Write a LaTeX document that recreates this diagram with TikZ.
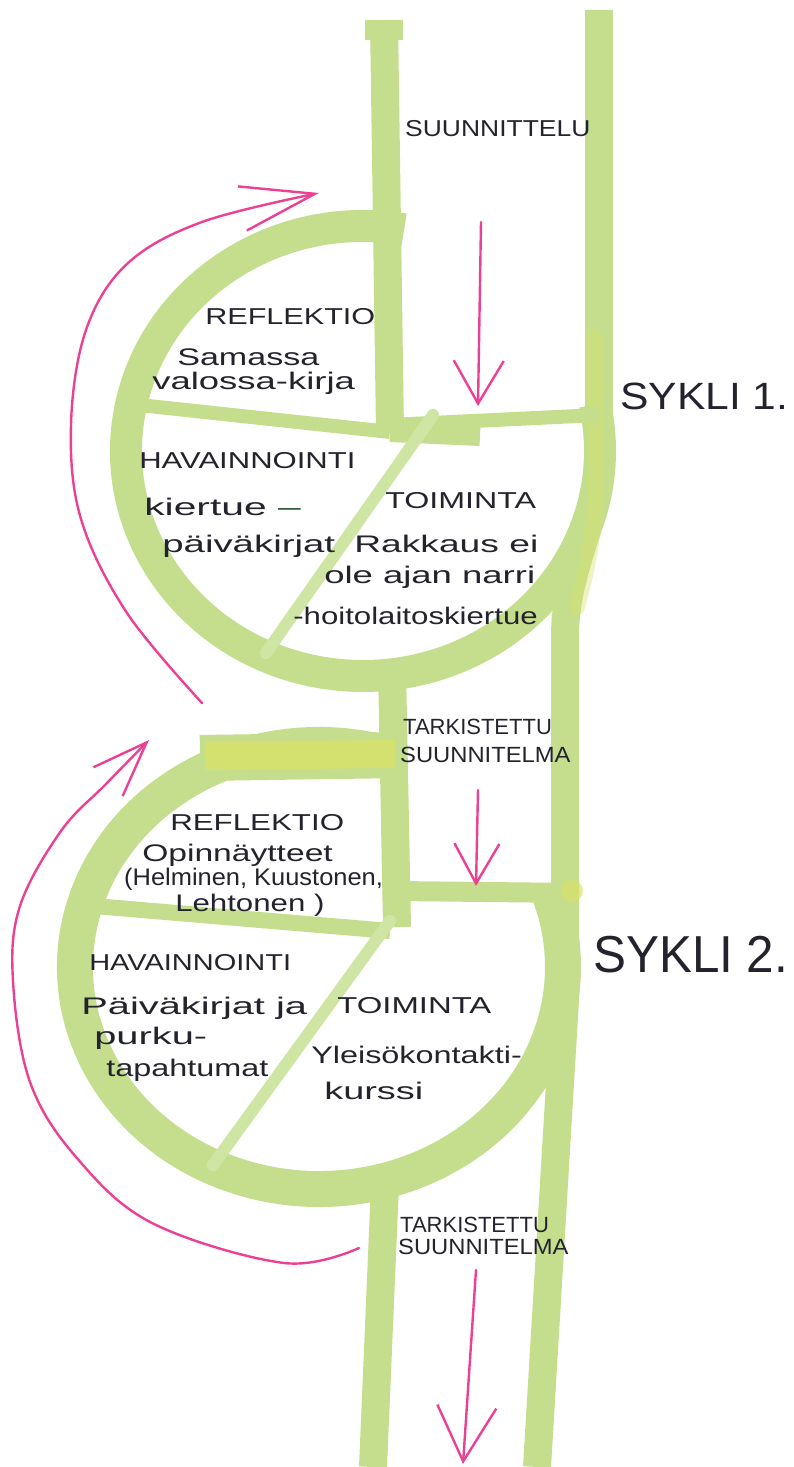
\documentclass[tikz,border=0pt]{standalone}
\usepackage{fontspec}
\setmainfont{Liberation Sans}
\usetikzlibrary{arrows.meta}
\definecolor{marker}{RGB}{197,222,142}
\definecolor{markerlight}{RGB}{207,229,163}
\definecolor{markeryellow}{RGB}{216,226,104}
\definecolor{pen}{RGB}{236,64,148}
\definecolor{ink}{RGB}{35,35,45}
\definecolor{darkpen}{RGB}{30,80,40}
\tikzset{
	band/.style={draw=marker, line width=28pt, line join=round},
	ring/.style={draw=marker, line width=32pt},
	spoke/.style={draw=marker, line width=14pt},
	thinspoke/.style={draw=markerlight, line width=12pt, line cap=round},
	penline/.style={draw=pen, line width=2.4pt, line cap=round},
	caps/.style={font=\fontsize{23}{23}\selectfont, text=ink, inner sep=0pt, anchor=base west},
	smallcaps/.style={font=\fontsize{22}{22}\selectfont, text=ink, inner sep=0pt, anchor=base west},
	hand/.style={font=\fontsize{24}{24}\selectfont, text=ink, inner sep=0pt, anchor=base west},
	cyclelbl/.style={text=ink, inner sep=0pt, anchor=base west}
}
\begin{document}
\begin{tikzpicture}[x=1pt,y=1pt]
		\useasboundingbox (0,0) rectangle (794,1467);
		\coordinate (c1) at (363,1016);
		\coordinate (c2) at (319,500);
		\coordinate (rtop) at (599,1457);
		\coordinate (rbend) at (599,1016);
		\coordinate (rlow) at (565,830);
		\coordinate (rmid) at (565,467);
		\coordinate (rbot) at (537,0);
		\coordinate (ltop) at (384,1447);
		\coordinate (hub1) at (390,1035);
		\coordinate (mtop) at (392,800);
		\coordinate (hub2) at (397,540);
		\coordinate (btop) at (385,282);
		\coordinate (bbot) at (373,0);
		% green bands
		\draw[band] (rtop) -- (rbend) .. controls (599,940) and (565,900) .. (rlow) -- (rmid) -- (rbot);
		\draw[band] (ltop) -- (hub1);
		\draw[draw=marker, line width=38pt] (ltop) -- ++(0,-20);
		\draw[band] (mtop) -- (hub2);
		\draw[band] (btop) -- (bbot);
		\draw[ring] ([shift={(80:237 and 225)}]c1) arc[start angle=80, end angle=372, x radius=237, y radius=225];
		\draw[ring, line width=36pt] ([shift={(71:244 and 222)}]c2) arc[start angle=71, end angle=380, x radius=244, y radius=222];
		\draw[draw=markeryellow, line width=16pt, opacity=0.4, line cap=round] (595,1130) -- (596,1000) .. controls (596,930) and (585,890) .. (577,860);
		\draw[draw=marker, line width=46pt] (200,709) -- (405,712);
		\draw[draw=markeryellow, line width=28pt, opacity=0.8] (205,711) -- (395,713);
		\draw[spoke] (130,1063) -- (hub1);
		\draw[spoke] (hub1) ++(0,7) -- (599,1052);
		\draw[draw=marker, line width=20pt] (hub1) -- (480,1031);
		\draw[thinspoke] (266,814) -- (433,1052);
		\draw[spoke, line width=16pt] (94,561) -- (390,536);
		\draw[spoke, line width=20pt] (395,576) -- (575,574);
		\fill[markeryellow, opacity=0.7] (572,576) circle (11);
		\draw[thinspoke] (213,302) -- (390,546);
		% pink arrows
		\coordinate (a1s) at (202,764);
		\coordinate (a1e) at (319,1274);
		\draw[penline, -{Straight Barb[length=74pt, width=45pt]}] plot[smooth, tension=0.6] coordinates {(a1s) (127,854) (81,948) (71,1042) (86,1137) (127,1203) (202,1245) (a1e)};
		\coordinate (a2s) at (359,219);
		\coordinate (a2e) at (149,727);
		\draw[penline, -{Straight Barb[length=55pt, width=41pt]}] plot[smooth, tension=0.6] coordinates {(a2s) (284,204) (152,244) (76,310) (30,385) (13,486) (20,561) (61,636) (106,683) (a2e)};
		\coordinate (s1a) at (481,1245);
		\coordinate (s1b) at (478,1061);
		\coordinate (s2a) at (478,677);
		\coordinate (s2b) at (476,581);
		\coordinate (s3a) at (476,197);
		\coordinate (s3b) at (463,3);
		\draw[penline, -{Straight Barb[length=43pt, width=50pt]}] (s1a) -- (s1b);
		\draw[penline, -{Straight Barb[length=40pt, width=45pt]}] (s2a) -- (s2b);
		\draw[penline, -{Straight Barb[length=55pt, width=59pt]}] (s3a) -- (s3b);
		% labels
		\node[caps, xscale=1.15] (plan) at (405,1330) {SUUNNITTELU};
		\node[caps, xscale=1.33] (refl1) at (205,1142) {REFLEKTIO};
		\node[hand, xscale=1.42] (book1) at (177,1101) {Samassa};
		\node[hand, xscale=1.52] (book2) at (152,1077) {valossa-kirja};
		\node[caps, xscale=1.35] (hav1) at (139,998) {HAVAINNOINTI};
		\node[hand, xscale=1.7] (diary1) at (144,951) {kiertue \textcolor{darkpen}{–}};
		\node[hand, xscale=1.6] (diary2) at (162,914) {päiväkirjat};
		\node[caps, xscale=1.4] (act1) at (385,958) {TOIMINTA};
		\node[hand, xscale=1.55] (tour1) at (354,914) {Rakkaus ei};
		\node[hand, xscale=1.52] (tour2) at (324,883) {ole ajan narri};
		\node[hand, xscale=1.3] (tour3) at (293,842) {-hoitolaitoskiertue};
		\node[cyclelbl, font=\fontsize{38}{38}\selectfont, xscale=1.12] (cyc1) at (620,1057) {SYKLI 1.};
		\node[smallcaps] (rev1a) at (403,732) {TARKISTETTU};
		\node[smallcaps, xscale=1.08] (rev1b) at (400,704) {SUUNNITELMA};
		\node[caps, xscale=1.36] (refl2) at (170,636) {REFLEKTIO};
		\node[hand, xscale=1.4] (thesis1) at (142,605) {Opinnäytteet};
		\node[hand, xscale=1.06] (thesis2) at (124,581) {(Helminen, Kuustonen,};
		\node[hand, xscale=1.3] (thesis3) at (175,555) {Lehtonen )};
		\node[caps, xscale=1.26] (hav2) at (89,496) {HAVAINNOINTI};
		\node[hand, xscale=1.66] (diary3) at (81,452) {Päiväkirjat ja};
		\node[hand, xscale=1.66] (diary4) at (94,422) {purku-};
		\node[hand, xscale=1.35] (diary5) at (106,390) {tapahtumat};
		\node[caps, xscale=1.43] (act2) at (337,453) {TOIMINTA};
		\node[hand, xscale=1.35] (course1) at (311,403) {Yleisökontakti-};
		\node[hand, xscale=1.58] (course2) at (324,367) {kurssi};
		\node[cyclelbl, font=\fontsize{52}{52}\selectfont, xscale=0.95] (cyc2) at (593,494) {SYKLI 2.};
		\node[smallcaps] (rev2a) at (400,234) {TARKISTETTU};
		\node[smallcaps, xscale=1.08] (rev2b) at (398,212) {SUUNNITELMA};
\end{tikzpicture}
\end{document}
